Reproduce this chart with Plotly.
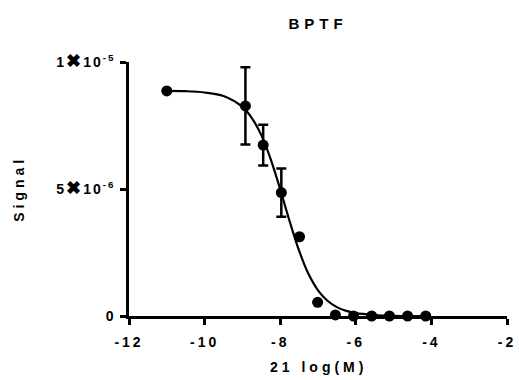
import plotly.graph_objects as go

# Data
log_conc = [-11.0, -8.92, -8.45, -7.97, -7.49, -7.01, -6.54, -6.06, -5.58, -5.11, -4.63, -4.15]
signal = [8.86e-6, 8.27e-6, 6.73e-6, 4.86e-6, 3.12e-6, 0.54e-6, 0.04e-6, 0.0, 0.0, 0.0, 0.0, 0.0]
signal_err = [None, 1.52e-6, 0.80e-6, 0.95e-6, None, None, None, None, None, None, None, None]

# Fitted curve
curve_x = [-11.0, -10.5, -10.0, -9.5, -9.0, -8.75, -8.5, -8.25, -8.0, -7.75, -7.5,
           -7.25, -7.0, -6.75, -6.5, -6.25, -6.0, -5.5, -5.0, -4.5, -4.15]
curve_y = [8.86e-6, 8.85e-6, 8.80e-6, 8.66e-6, 8.23e-6, 7.79e-6, 7.12e-6, 6.17e-6,
           4.99e-6, 3.73e-6, 2.57e-6, 1.65e-6, 1.01e-6, 0.60e-6, 0.35e-6, 0.20e-6,
           0.11e-6, 0.04e-6, 0.01e-6, 0.0, 0.0]

x_ticks = [-12, -10, -8, -6, -4, -2]
x_ticktext = ["-12", "-10", "-8", "-6", "-4", "-2"]
y_ticks = [0, 5e-6, 1e-5]
X = '<span style="font-size:18px">✖</span>'
y_ticktext = ["0", "5" + X + "10<sup>-6</sup>", "1" + X + "10<sup>-5</sup>"]

title_text = "BPTF"
x_title = "21 log(M)"
y_title = "Signal"

FONT = "Liberation Sans, Arial, sans-serif"

fig = go.Figure()
fig.add_trace(go.Scatter(
    x=curve_x, y=curve_y, mode="lines",
    line=dict(color="black", width=2.2, shape="spline"),
    hoverinfo="skip", cliponaxis=False, showlegend=False))
fig.add_trace(go.Scatter(
    x=log_conc, y=signal, mode="markers",
    marker=dict(color="black", size=11),
    error_y=dict(type="data", array=signal_err, visible=True,
                 color="black", thickness=2.5, width=5),
    cliponaxis=False, showlegend=False))

axis_common = dict(
    showline=True, linecolor="black", linewidth=2.5,
    ticks="outside", ticklen=6, tickwidth=2.5, tickcolor="black",
    showgrid=False, zeroline=False, ticklabeloverflow="allow",
    tickfont=dict(family=FONT, size=14, color="black", weight="bold"),
)

fig.update_layout(
    width=519, height=380,
    margin=dict(l=129, r=6, t=62, b=64),
    paper_bgcolor="white", plot_bgcolor="white",
    title=dict(text=title_text, x=0.5, xref="paper", y=1 - 24 / 380,
               yref="container", xanchor="center", yanchor="middle",
               font=dict(family=FONT, size=15, color="black", weight="bold")),
    xaxis=dict(range=[-12, -2], tickvals=x_ticks, ticktext=x_ticktext,
               ticklabelstandoff=5, **axis_common),
    yaxis=dict(range=[0, 1e-5], tickvals=y_ticks, ticktext=y_ticktext,
               ticklabelstandoff=0, **axis_common),
    annotations=[
        dict(text=x_title, xref="paper", yref="paper", x=0.5, y=(316 - 367) / 254,
             xanchor="center", yanchor="middle", showarrow=False,
             font=dict(family=FONT, size=14, color="black", weight="bold")),
        dict(text=y_title, xref="paper", yref="paper", x=(17 - 129) / 384, y=0.5,
             xanchor="center", yanchor="middle", showarrow=False, textangle=-90,
             font=dict(family=FONT, size=14, color="black", weight="bold")),
    ],
)

post = """
var s = document.createElement('style');
s.innerHTML = '.gtitle{letter-spacing:5px} .xtick text{letter-spacing:3px} .ytick text{letter-spacing:2px} .annotation-text{letter-spacing:4px}';
document.head.appendChild(s);
document.querySelectorAll('.ytick text').forEach(function(t){
  var x = parseFloat(t.getAttribute('x') || '0');
  t.setAttribute('x', x - 2);
});
"""
fig.write_html("out.html", post_script=post)
